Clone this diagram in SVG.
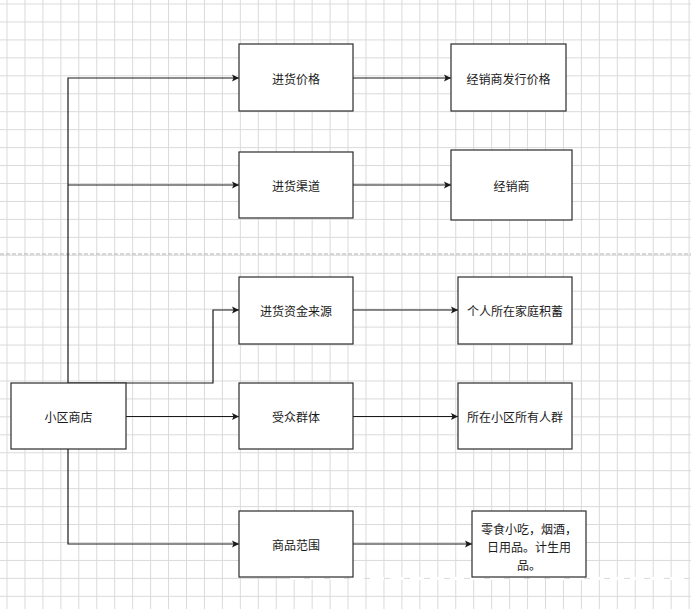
<svg xmlns="http://www.w3.org/2000/svg" width="691" height="609" viewBox="0 0 691 609">
<style>
.box{fill:#fff;stroke:#2b2b2b;stroke-width:1.2}
.lbl{font-family:"Noto Sans CJK SC","Microsoft YaHei",sans-serif;font-size:12px;fill:#1a1a1a;text-anchor:middle;dominant-baseline:central}
.conn{fill:none;stroke:#1a1a1a;stroke-width:1.2}
</style>
<defs>
<pattern id="grid" x="6.5" y="3.5" width="17.95" height="17.95" patternUnits="userSpaceOnUse">
<path d="M0 0.5H17.95M0.5 0V17.95" fill="none" stroke="#dadada" stroke-width="1"/>
</pattern>
<marker id="arr" markerWidth="8" markerHeight="8" refX="7" refY="4" orient="auto" markerUnits="userSpaceOnUse">
<path d="M0,0.5 L7,4 L0,7.5 L1.5,4 z" fill="#1a1a1a"/>
</marker>
</defs>
<rect width="691" height="609" fill="#fff"/>
<rect width="691" height="609" fill="url(#grid)"/>
<line x1="0" y1="254" x2="691" y2="254" stroke="#b0b0b0" stroke-width="1" stroke-dasharray="4 2"/>
<line x1="290" y1="578.5" x2="691" y2="578.5" stroke="#fff" stroke-width="3" stroke-dasharray="14 6"/>
<g id="connectors">
<path class="conn" d="M68 383V78H239" marker-end="url(#arr)"/>
<path class="conn" d="M68 185H239" marker-end="url(#arr)"/>
<path class="conn" d="M68 383H213V310H239" marker-end="url(#arr)"/>
<path class="conn" d="M126 416.5H239" marker-end="url(#arr)"/>
<path class="conn" d="M68 449V544H239" marker-end="url(#arr)"/>
<path class="conn" d="M353 78H451" marker-end="url(#arr)"/>
<path class="conn" d="M353 185H451" marker-end="url(#arr)"/>
<path class="conn" d="M353 310H458" marker-end="url(#arr)"/>
<path class="conn" d="M353 416.5H458" marker-end="url(#arr)"/>
<path class="conn" d="M353 544H472" marker-end="url(#arr)"/>
</g>
<g id="n-store"><rect class="box" x="11" y="383" width="115" height="66"/><text class="lbl" x="68.5" y="416.5">小区商店</text></g>
<g id="n-price"><rect class="box" x="239" y="44" width="114" height="67"/><text class="lbl" x="296" y="78">进货价格</text></g>
<g id="n-dealer-price"><rect class="box" x="451" y="44" width="115" height="67"/><text class="lbl" x="508.5" y="78">经销商发行价格</text></g>
<g id="n-channel"><rect class="box" x="239" y="152" width="114" height="66"/><text class="lbl" x="296" y="185">进货渠道</text></g>
<g id="n-dealer"><rect class="box" x="451" y="150" width="121" height="70"/><text class="lbl" x="511.5" y="185">经销商</text></g>
<g id="n-fund"><rect class="box" x="239" y="277" width="114" height="67"/><text class="lbl" x="296" y="310.5">进货资金来源</text></g>
<g id="n-savings"><rect class="box" x="458" y="277" width="114" height="67"/><text class="lbl" x="515" y="310.5">个人所在家庭积蓄</text></g>
<g id="n-audience"><rect class="box" x="239" y="383" width="114" height="66"/><text class="lbl" x="296" y="416.5">受众群体</text></g>
<g id="n-residents"><rect class="box" x="458" y="383" width="114" height="66"/><text class="lbl" x="515" y="416.5">所在小区所有人群</text></g>
<g id="n-range"><rect class="box" x="239" y="511" width="114" height="66"/><text class="lbl" x="296" y="544.5">商品范围</text></g>
<g id="n-goods"><rect class="box" x="472" y="511" width="114" height="66"/>
<text class="lbl" x="529" y="528">零食小吃，烟酒，</text>
<text class="lbl" x="529" y="546">日用品。计生用</text>
<text class="lbl" x="529" y="564">品。</text></g>
</svg>
